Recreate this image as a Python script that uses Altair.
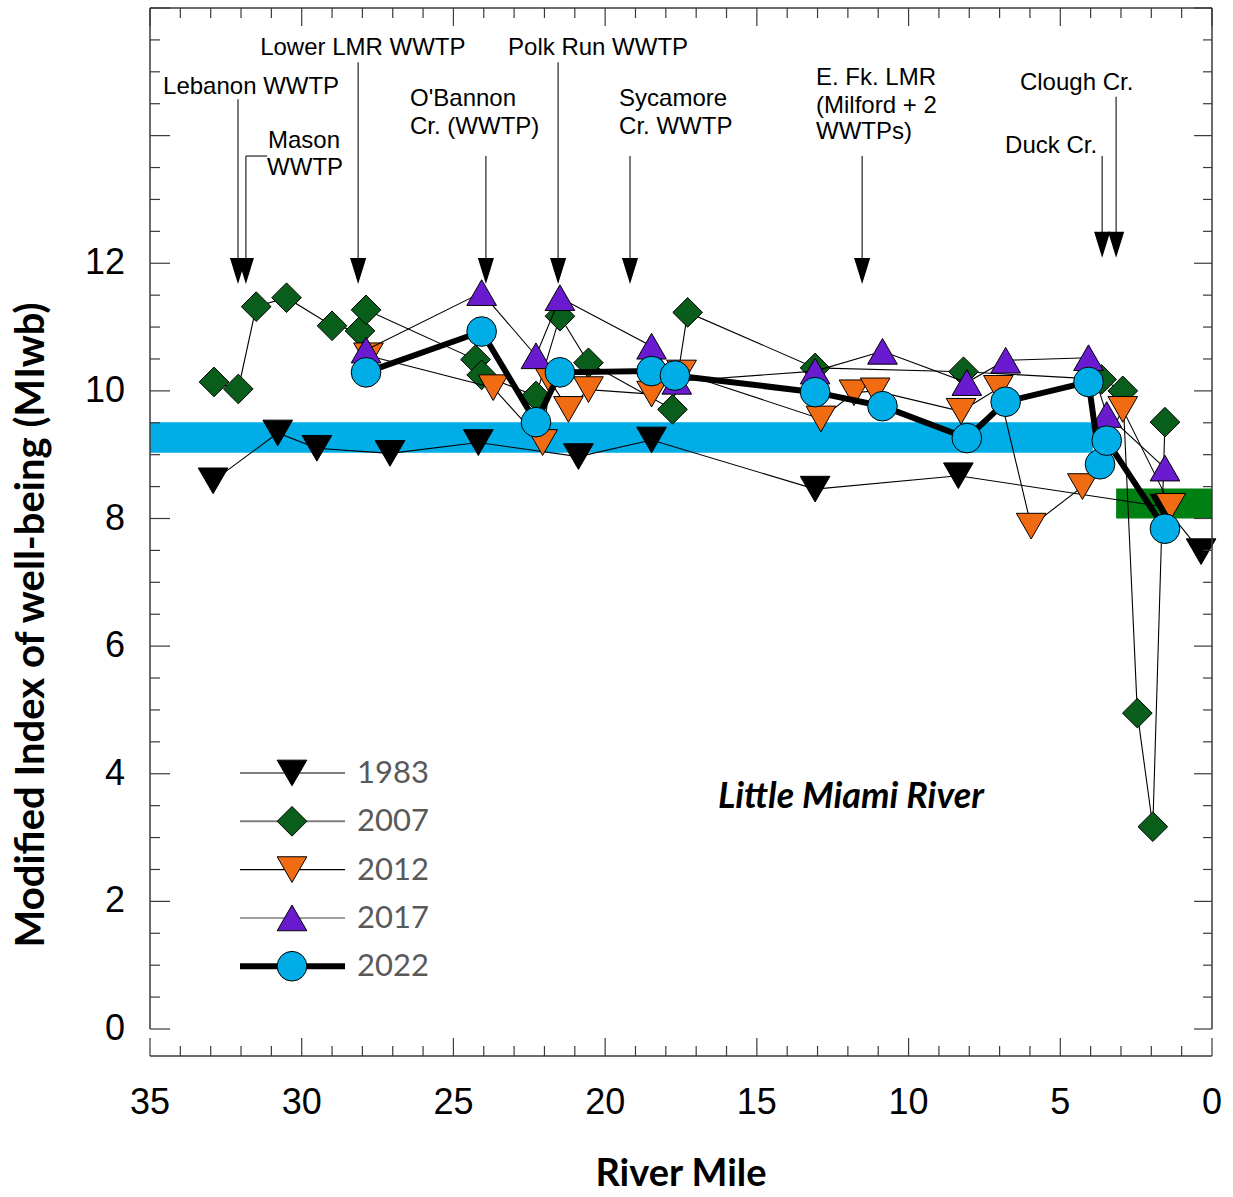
import altair as alt
import pandas as pd

# ---- survey data: river mile and MIwb score per survey year ----
years = ["1983", "2007", "2012", "2017", "2022"]

rm_1983 = [32.92, 30.79, 29.50, 27.09, 24.18, 20.88, 18.47, 13.08, 8.36, 1.55, 0.36]
mi_1983 = [8.59, 9.34, 9.10, 9.02, 9.19, 8.97, 9.23, 8.46, 8.67, 8.18, 7.48]

rm_2007 = [32.89, 32.09, 31.50, 30.50, 29.00, 28.08, 27.88, 24.27, 24.07, 22.28,
           21.49, 20.55, 17.78, 17.28, 13.08, 8.19, 3.64, 2.94, 2.46, 1.95, 1.55]
mi_2007 = [10.14, 10.03, 11.32, 11.46, 11.02, 10.94, 11.27, 10.49, 10.25, 9.92,
           11.17, 10.44, 9.71, 11.23, 10.36, 10.30, 10.18, 10.00, 4.95, 3.17, 9.51]

rm_2012 = [27.80, 23.69, 22.06, 21.82, 21.21, 20.55, 18.47, 17.48, 12.89, 11.80,
           11.10, 8.27, 7.04, 5.96, 4.27, 2.94, 1.36]
mi_2012 = [10.55, 10.05, 9.19, 10.16, 9.71, 10.02, 9.95, 10.28, 9.56, 9.97,
           10.00, 9.68, 10.04, 7.88, 8.50, 9.71, 8.19]

rm_2017 = [27.88, 24.07, 22.28, 21.49, 18.47, 17.64, 13.08, 10.86, 8.08, 6.80,
           4.07, 3.47, 1.55]
mi_2017 = [10.64, 11.54, 10.55, 11.46, 10.70, 10.15, 10.31, 10.62, 10.13, 10.48,
           10.52, 9.63, 8.79]

rm_2022 = [27.88, 24.07, 22.28, 21.49, 18.47, 17.70, 13.08, 10.86, 8.08, 6.80,
           4.07, 3.69, 3.47, 1.55]
mi_2022 = [10.29, 10.93, 9.51, 10.29, 10.31, 10.24, 9.98, 9.76, 9.26, 9.83,
           10.14, 8.85, 9.22, 7.84]

# criteria bands (river mile span, score span)
band_wwh_rm = [35.0, 3.93]
band_wwh_mi = [9.03, 9.51]
band_lower_rm = [3.16, 0.0]
band_lower_mi = [8.00, 8.47]

# point-source / tributary annotations
site_lines = ["Lebanon WWTP", "Mason", "WWTP", "Lower LMR WWTP", "O'Bannon",
              "Cr. (WWTP)", "Polk Run WWTP", "Sycamore", "Cr. WWTP", "E. Fk. LMR",
              "(Milford + 2", "WWTPs)", "Clough Cr.", "Duck Cr."]
site_line_rm = [34.57, 31.11, 31.14, 31.37, 26.43, 26.43, 23.20, 19.54, 19.54,
                13.05, 13.05, 13.05, 6.33, 6.82]
site_line_mi = [14.66, 13.81, 13.39, 15.27, 14.47, 14.03, 15.27, 14.47, 14.03,
                14.80, 14.36, 13.94, 14.71, 13.72]

arrow_rm = [32.10, 31.84, 28.14, 23.93, 21.55, 19.18, 11.53, 3.62, 3.16]
arrow_top = [14.57, 13.68, 15.15, 13.68, 15.15, 13.68, 13.68, 13.68, 14.61]
arrow_head = [11.88, 11.88, 11.88, 11.88, 11.88, 11.88, 11.88, 12.29, 12.29]
leader_rm = [31.84, 31.14]
leader_mi = 13.68

river_name = "Little Miami River"
river_name_rm = 11.9
river_name_mi = 3.64

x_title = "River Mile"
y_title = "Modified Index of well-being (MIwb)"
x_labels = [35, 30, 25, 20, 15, 10, 5, 0]
y_labels = [0, 2, 4, 6, 8, 10, 12]

x_major = list(range(0, 36, 5))
x_minor = [m for m in range(0, 36) if m % 5]
y_major = list(range(0, 17, 2))
y_minor = [v / 2 for v in range(0, 33) if v % 4]

# ---- styling ----
W, H = 1062, 1021
XAX = H + 27          # offset river-mile axis line
AX_FONT = "Liberation Sans"
TITLE_FONT = "Lato"
FRAME = "#3a3a3a"
BLUE = "#00ADE6"
GREEN_BAND = "#007F12"

style = {
    "1983": dict(shape="triangle-down", fill="#000000", lw=1.1, leg_lc="#000000", leg_lw=1.2),
    "2007": dict(shape="diamond", fill="#0A5E1B", lw=1.1, leg_lc="#7f7f7f", leg_lw=2.0),
    "2012": dict(shape="triangle-down", fill="#F06B12", lw=1.1, leg_lc="#000000", leg_lw=1.2),
    "2017": dict(shape="triangle-up", fill="#6A1BD0", lw=1.1, leg_lc="#7f7f7f", leg_lw=1.5),
    "2022": dict(shape="circle", fill=BLUE, lw=6.0, leg_lc="#000000", leg_lw=6.0),
}
series = {
    "1983": (rm_1983, mi_1983),
    "2007": (rm_2007, mi_2007),
    "2012": (rm_2012, mi_2012),
    "2017": (rm_2017, mi_2017),
    "2022": (rm_2022, mi_2022),
}

xs = alt.Scale(domain=[0, 35], reverse=True, nice=False, zero=False)
ys = alt.Scale(domain=[0, 16], nice=False, zero=False)


def xq(field):
    return alt.X(f"{field}:Q", scale=xs, axis=None)


def yq(field):
    return alt.Y(f"{field}:Q", scale=ys, axis=None)


one_row = pd.DataFrame({"k": [0]})
layers = []

# ---- bands ----
for brm, bmi, col in ((band_wwh_rm, band_wwh_mi, BLUE), (band_lower_rm, band_lower_mi, GREEN_BAND)):
    bd = pd.DataFrame({"x1": [brm[0]], "x2": [brm[1]], "y1": [bmi[0]], "y2": [bmi[1]]})
    layers.append(
        alt.Chart(bd).mark_rect(color=col).encode(
            x=xq("x1"), x2="x2:Q", y=yq("y1"), y2="y2:Q"
        )
    )

# ---- series: connecting line then markers ----
for yr in years:
    rm, mi = series[yr]
    df = pd.DataFrame({"rm": rm, "mi": mi})
    st = style[yr]
    layers.append(
        alt.Chart(df).mark_line(color="black", strokeWidth=st["lw"]).encode(
            x=xq("rm"), y=yq("mi")
        )
    )
    layers.append(
        alt.Chart(df).mark_point(
            shape=st["shape"], filled=True, fill=st["fill"], stroke="black",
            strokeWidth=1, size=880, opacity=1,
        ).encode(x=xq("rm"), y=yq("mi"))
    )

# ---- annotation arrows and labels ----
arrows = pd.DataFrame({"rm": arrow_rm, "top": arrow_top, "head": arrow_head})
layers.append(
    alt.Chart(arrows).mark_rule(color="#333333", strokeWidth=1.3).encode(
        x=xq("rm"), y=yq("top"), y2="head:Q"
    )
)
leader = pd.DataFrame({"a": [leader_rm[0]], "b": [leader_rm[1]], "v": [leader_mi]})
layers.append(
    alt.Chart(leader).mark_rule(color="#333333", strokeWidth=1.3).encode(
        x=xq("a"), x2="b:Q", y=yq("v")
    )
)
layers.append(
    alt.Chart(arrows).mark_point(
        shape="M-0.62,-1L0.62,-1L0,1Z", filled=True, fill="black",
        strokeWidth=0, size=676, opacity=1,
    ).encode(x=xq("rm"), y=yq("head"))
)
labels = pd.DataFrame({"t": site_lines, "rm": site_line_rm, "mi": site_line_mi})
layers.append(
    alt.Chart(labels).mark_text(
        align="left", baseline="alphabetic", font=AX_FONT, fontSize=24, color="black"
    ).encode(x=xq("rm"), y=yq("mi"), text="t:N")
)
layers.append(
    alt.Chart(pd.DataFrame({"t": [river_name], "rm": [river_name_rm], "mi": [river_name_mi]}))
    .mark_text(align="center", baseline="middle", font=TITLE_FONT, fontSize=36,
               fontWeight="bold", fontStyle="italic", color="black")
    .encode(x=xq("rm"), y=yq("mi"), text="t:N")
)

# ---- legend (line through marker, label to the right) ----
for i, yr in enumerate(years):
    st = style[yr]
    ly = 765 + 48.3 * i
    layers.append(
        alt.Chart(one_row).mark_rule(color=st["leg_lc"], strokeWidth=st["leg_lw"]).encode(
            x=alt.value(90), x2=alt.value(195), y=alt.value(ly)
        )
    )
    layers.append(
        alt.Chart(one_row).mark_point(
            shape=st["shape"], filled=True, fill=st["fill"], stroke="black",
            strokeWidth=1, size=880, opacity=1,
        ).encode(x=alt.value(142), y=alt.value(ly))
    )
    layers.append(
        alt.Chart(pd.DataFrame({"year": [yr]})).mark_text(
            align="left", baseline="middle", font=TITLE_FONT, fontSize=31, color="#595959"
        ).encode(x=alt.value(207), y=alt.value(ly + 1), text="year:N")
    )

# ---- frame: left, top, right sides and the offset river-mile axis line ----
for enc in (
    dict(x=alt.value(0), y=alt.value(0), y2=alt.value(H)),
    dict(x=alt.value(0), x2=alt.value(W), y=alt.value(0)),
    dict(x=alt.value(W), y=alt.value(0), y2=alt.value(H)),
    dict(x=alt.value(0), x2=alt.value(W), y=alt.value(XAX)),
):
    layers.append(alt.Chart(one_row).mark_rule(color=FRAME, strokeWidth=1.5).encode(**enc))

# inward-pointing tick marks
for vals, top_len, bot_len in ((x_major, 18, 18), (x_minor, 10, 10)):
    d = pd.DataFrame({"m": vals})
    layers.append(
        alt.Chart(d).mark_rule(color=FRAME, strokeWidth=1.2).encode(
            x=xq("m"), y=alt.value(0), y2=alt.value(top_len)
        )
    )
    layers.append(
        alt.Chart(d).mark_rule(color=FRAME, strokeWidth=1.2).encode(
            x=xq("m"), y=alt.value(XAX), y2=alt.value(XAX - bot_len)
        )
    )
for vals, left_len, right_len in ((y_major, 20, 18), (y_minor, 10, 9)):
    d = pd.DataFrame({"v": vals})
    layers.append(
        alt.Chart(d).mark_rule(color=FRAME, strokeWidth=1.2).encode(
            y=yq("v"), x=alt.value(0), x2=alt.value(left_len)
        )
    )
    layers.append(
        alt.Chart(d).mark_rule(color=FRAME, strokeWidth=1.2).encode(
            y=yq("v"), x=alt.value(W), x2=alt.value(W - right_len)
        )
    )

# tick labels
layers.append(
    alt.Chart(pd.DataFrame({"m": x_labels})).mark_text(
        align="center", baseline="middle", font=AX_FONT, fontSize=36, color="black"
    ).encode(x=xq("m"), y=alt.value(XAX + 47), text="m:Q")
)
layers.append(
    alt.Chart(pd.DataFrame({"v": y_labels})).mark_text(
        align="right", baseline="middle", font=AX_FONT, fontSize=36, color="black"
    ).encode(y=yq("v"), x=alt.value(-25), text="v:Q")
)

# axis titles
layers.append(
    alt.Chart(pd.DataFrame({"t": [x_title]})).mark_text(
        align="center", baseline="middle", font=TITLE_FONT, fontSize=38,
        fontWeight="bold", color="black"
    ).encode(x=alt.value(W / 2), y=alt.value(1167), text="t:N")
)
layers.append(
    alt.Chart(pd.DataFrame({"t": [y_title]})).mark_text(
        align="center", baseline="middle", font=TITLE_FONT, fontSize=40,
        fontWeight="bold", color="black", angle=270
    ).encode(x=alt.value(-118), y=alt.value(617), text="t:N")
)

chart = (
    alt.layer(*layers)
    .properties(
        width=W, height=H,
        autosize=alt.AutoSizeParams(type="none"),
        padding={"left": 150, "top": 8, "right": 21, "bottom": 168},
        background="white",
    )
    .configure_view(stroke=None)
)

chart.save("out.html", embed_options={"renderer": "svg", "actions": False})
